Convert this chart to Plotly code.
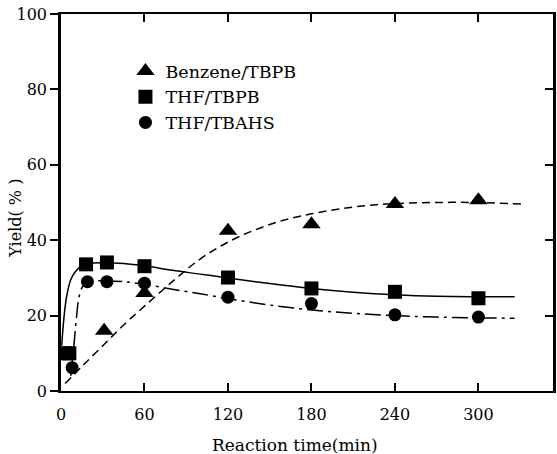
import plotly.graph_objects as go

# Measured points
benz_t = [31, 60, 120, 180, 240, 300]
benz_y = [16, 26, 42.5, 44.2, 49.6, 50.6]

tbpb_t = [3, 6, 18, 33, 60, 120, 180, 240, 300]
tbpb_y = [10, 10, 33.6, 34.1, 33.1, 30.1, 27.2, 26.3, 24.6]

tbahs_t = [8, 19, 33, 60, 120, 180, 240, 300]
tbahs_y = [6.2, 29, 29, 28.6, 24.9, 23.2, 20.2, 19.6]

# Fitted curves
benz_fit_t = [3, 15, 30, 45, 60, 80, 100, 120, 140, 160, 180, 200, 220, 240, 270, 300, 331]
benz_fit_y = [2, 6.5, 12, 17.5, 22.5, 29, 35, 39.5, 42.8, 45.3, 47, 48.3, 49.2, 49.7, 50, 50, 49.6]

tbpb_fit_t = [0.5, 2, 4, 7, 10, 14, 20, 30, 45, 60, 80, 100, 120, 150, 180, 210, 240, 270, 300, 326]
tbpb_fit_y = [12, 19, 25, 29.5, 31.5, 33, 33.8, 34, 33.8, 33.2, 32, 31, 30, 28.5, 27.2, 26.2, 25.5, 25.1, 25, 25]

tbahs_fit_t = [7, 9, 11, 13, 16, 20, 33, 45, 60, 80, 100, 120, 150, 180, 210, 240, 270, 300, 326]
tbahs_fit_y = [4, 11, 19, 25, 28, 29, 29.2, 29, 28.3, 27, 25.8, 24.5, 22.8, 21.5, 20.6, 20, 19.6, 19.4, 19.3]

x_ticks = [0, 60, 120, 180, 240, 300]
y_ticks = [0, 20, 40, 60, 80, 100]

FONT = "DejaVu Serif"

fig = go.Figure()

fig.add_trace(go.Scatter(x=benz_fit_t, y=benz_fit_y, mode="lines", line=dict(color="black", width=1.5, dash="8px,5px", shape="spline"), showlegend=False, hoverinfo="skip"))
fig.add_trace(go.Scatter(x=tbpb_fit_t, y=tbpb_fit_y, mode="lines", line=dict(color="black", width=1.5, shape="spline"), showlegend=False, hoverinfo="skip"))
fig.add_trace(go.Scatter(x=tbahs_fit_t, y=tbahs_fit_y, mode="lines", line=dict(color="black", width=1.5, dash="16px,5px,3px,5px", shape="spline"), showlegend=False, hoverinfo="skip"))

fig.add_trace(go.Scatter(x=benz_t, y=benz_y, mode="markers", name="Benzene/TBPB", marker=dict(symbol="triangle-up", size=16, color="black")))
fig.add_trace(go.Scatter(x=tbpb_t, y=tbpb_y, mode="markers", name="THF/TBPB", marker=dict(symbol="square", size=14, color="black")))
fig.add_trace(go.Scatter(x=tbahs_t, y=tbahs_y, mode="markers", name="THF/TBAHS", marker=dict(symbol="circle", size=13, color="black")))

# dummy trace to activate right-side axis
fig.add_trace(go.Scatter(x=[None], y=[None], yaxis="y2", showlegend=False, hoverinfo="skip"))

fig.update_layout(
    width=557, height=454,
    margin=dict(l=61, r=1, t=14, b=63),
    paper_bgcolor="white", plot_bgcolor="white",
    font=dict(family=FONT, size=16, color="black"),
    xaxis=dict(range=[0, 353.6], tickvals=x_ticks, ticks="inside", ticklen=8, tickwidth=1.5,
               tickcolor="black", showline=True, linecolor="black", linewidth=2, mirror="ticks",
               showgrid=False, zeroline=False, ticklabelstandoff=8,
               tickfont=dict(family=FONT, size=16)),
    yaxis=dict(range=[0, 100], tickvals=y_ticks, ticks="outside", ticklen=8, tickwidth=1.5,
               tickcolor="black", showline=True, linecolor="black", linewidth=2.5, mirror=True,
               showgrid=False, zeroline=False, tickfont=dict(family=FONT, size=16)),
    yaxis2=dict(overlaying="y", side="right", matches="y", range=[0, 100], tickvals=[20, 40, 60, 80],
                ticks="inside", ticklen=8, tickwidth=1.5, tickcolor="black", showticklabels=False,
                showline=True, linecolor="black", linewidth=2, showgrid=False, zeroline=False),
    legend=dict(x=0.131, y=0.8965, xanchor="left", yanchor="top", bgcolor="rgba(0,0,0,0)",
                font=dict(family=FONT, size=17.5), tracegroupgap=0, itemwidth=30),
    annotations=[
        dict(text="Reaction time(min)", x=0.475, y=-0.143, xref="paper", yref="paper",
             showarrow=False, font=dict(family=FONT, size=17), xanchor="center", yanchor="middle"),
        dict(text="Yield( % )", x=-0.092, y=0.459, xref="paper", yref="paper", textangle=-90,
             showarrow=False, font=dict(family=FONT, size=16), xanchor="center", yanchor="middle"),
    ],
)

fig.write_html("out.html", config={"displayModeBar": False},
               post_script="document.body.style.margin='0px';")
